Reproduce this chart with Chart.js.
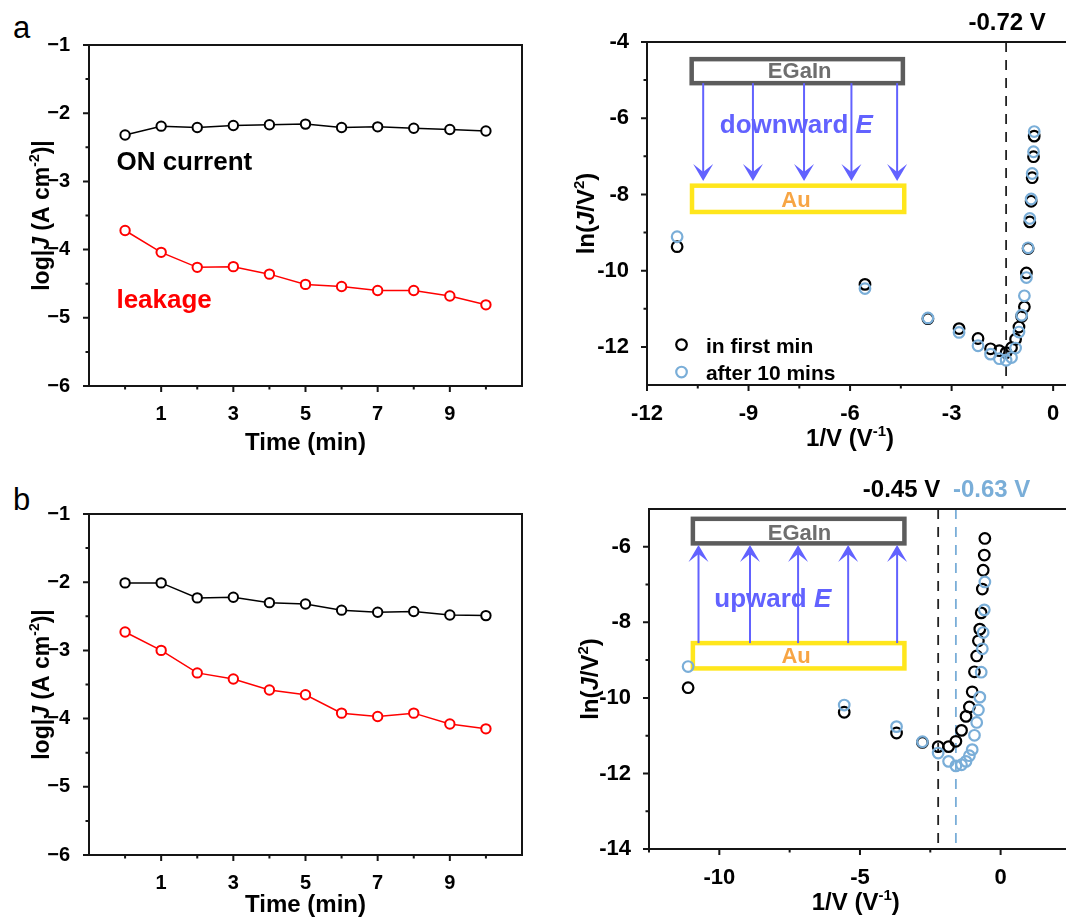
<!DOCTYPE html>
<html>
<head>
<meta charset="utf-8">
<title>log|J| vs time and ln(J/V2) vs 1/V</title>
<script src="https://cdn.jsdelivr.net/npm/chart.js@4.4.1/dist/chart.umd.min.js"></script>
<style>
  html, body { margin: 0; padding: 0; width: 1066px; height: 922px; overflow: hidden; background: #fff; }
  canvas, .tag { position: absolute; }
  .tag { font: 31px 'Liberation Sans', Arial, sans-serif; line-height: 1; }
</style>
</head>
<body>
<div class="tag" style="left:13px;top:12px">a</div>
<div class="tag" style="left:13px;top:484px">b</div>
<canvas id="chartA" width="533" height="460" style="left:0;top:0;width:533px;height:460px"></canvas>
<canvas id="chartB" width="533" height="452" style="left:0;top:470px;width:533px;height:452px"></canvas>
<canvas id="chartC" width="527" height="460" style="left:560px;top:0;width:527px;height:460px"></canvas>
<canvas id="chartD" width="525" height="462" style="left:560px;top:460px;width:525px;height:462px"></canvas>
<script>
const FONT = "'Liberation Sans', Arial, sans-serif";
Chart.defaults.font.family = FONT;
Chart.defaults.font.weight = 'bold';
Chart.defaults.color = '#000';

// ---- data ----
const timeMin = [0, 1, 2, 3, 4, 5, 6, 7, 8, 9, 10];
const onCurrentA = [-2.32, -2.19, -2.21, -2.18, -2.17, -2.16, -2.21, -2.20, -2.22, -2.24, -2.26];
const leakageA = [-3.72, -4.04, -4.26, -4.25, -4.36, -4.51, -4.54, -4.60, -4.60, -4.68, -4.81];
const onCurrentB = [-2.01, -2.01, -2.23, -2.22, -2.30, -2.32, -2.41, -2.44, -2.43, -2.48, -2.49];
const leakageB = [-2.73, -3.00, -3.33, -3.42, -3.58, -3.65, -3.92, -3.97, -3.92, -4.08, -4.15];

const invV = [-11.11, -5.56, -3.70, -2.78, -2.22, -1.85, -1.59, -1.39, -1.23, -1.11,
              -1.01, -0.93, -0.85, -0.79, -0.74, -0.69, -0.65, -0.62, -0.58, -0.56];
const firstMinA = [-9.37, -10.36, -11.26, -11.52, -11.78, -12.05, -12.10, -12.15, -12.02, -11.80,
                   -11.48, -11.20, -10.95, -10.06, -9.42, -8.72, -8.18, -7.56, -7.01, -6.47];
const after10A = [-9.11, -10.47, -11.24, -11.62, -11.97, -12.19, -12.31, -12.35, -12.28, -12.03,
                  -11.61, -11.17, -10.66, -10.18, -9.40, -8.63, -8.12, -7.45, -6.88, -6.35];
const firstMinB = [-9.73, -10.38, -10.93, -11.18, -11.29, -11.29, -11.15, -10.86, -10.49, -10.24,
                   -9.84, -9.31, -8.89, -8.49, -8.18, -7.75, -7.12, -6.62, -6.22, -5.78];
const after10B = [-9.17, -10.19, -10.76, -11.16, -11.46, -11.68, -11.80, -11.77, -11.68, -11.53,
                  -11.37, -10.99, -10.65, -10.32, -9.98, -9.32, -8.70, -8.27, -7.67, -6.93];

// onset markers (1/V of the labelled voltages)
const onsetA = [-1.39];          // -0.72 V
const onsetB = [-2.22, -1.59];   // -0.45 V, -0.63 V
const onsetLabelsA = ['-0.72 V'];
const onsetLabelsB = ['-0.45 V', '-0.63 V'];

// ticks
const timeTicks = [1, 3, 5, 7, 9];
const timeMinor = [0, 2, 4, 6, 8, 10];
const logJTicks = [-1, -2, -3, -4, -5, -6];
const logJMinor = [-1.5, -2.5, -3.5, -4.5, -5.5];
const invVTicksA = [-12, -9, -6, -3, 0];
const invVMinorA = [-10.5, -7.5, -4.5, -1.5];
const lnTicksA = [-4, -6, -8, -10, -12];
const lnMinorA = [-5, -7, -9, -11];
const invVTicksB = [-10, -5, 0];
const invVMinorB = [-12.5, -7.5, -2.5, 2.5];
const lnTicksB = [-6, -8, -10, -12, -14];
const lnMinorB = [-7, -9, -11, -13];

const BLACK = '#000000', RED = '#ff0000', BLUE = '#7aaed8';
const VIOLET = '#6262ff', YELLOW = '#ffe61c', ORANGE = '#f7a544';

// text with italic / superscript pieces
function richText(ctx, parts, x, y, size, opt) {
  opt = opt || {};
  const font = f => (f.indexOf('i') >= 0 ? 'italic ' : '') + 'bold ' +
    (f.indexOf('s') >= 0 ? Math.round(size * 0.62) : size) + 'px ' + FONT;
  ctx.save();
  ctx.translate(x, y);
  if (opt.rot) ctx.rotate(opt.rot);
  ctx.textBaseline = 'alphabetic';
  ctx.textAlign = 'left';
  ctx.fillStyle = opt.color || '#000';
  let w = 0;
  parts.forEach(p => { ctx.font = font(p[1] || ''); w += ctx.measureText(p[0]).width; });
  let cx = opt.align === 'left' ? 0 : opt.align === 'right' ? -w : -w / 2;
  parts.forEach(p => {
    const f = p[1] || '';
    ctx.font = font(f);
    ctx.fillText(p[0], cx, f.indexOf('s') >= 0 ? -size * 0.42 : 0);
    cx += ctx.measureText(p[0]).width;
  });
  ctx.restore();
}

// box frame, outward ticks (major + minor) and axis titles
const framePlugin = {
  id: 'frame',
  afterDraw(chart, args, o) {
    const { ctx, chartArea: a, scales } = chart;
    const sx = scales.x, sy = scales.y;
    ctx.save();
    ctx.strokeStyle = '#151515';
    ctx.lineWidth = 2;
    ctx.strokeRect(a.left, a.top, a.right - a.left, a.bottom - a.top);
    ctx.beginPath();
    const xt = (v, len) => { const p = sx.getPixelForValue(v); ctx.moveTo(p, a.bottom); ctx.lineTo(p, a.bottom + len); };
    const yt = (v, len) => { const p = sy.getPixelForValue(v); ctx.moveTo(a.left, p); ctx.lineTo(a.left - len, p); };
    sx.ticks.forEach(t => xt(t.value, 6));
    sy.ticks.forEach(t => yt(t.value, 6));
    (o.xMinor || []).forEach(v => xt(v, 3.5));
    (o.yMinor || []).forEach(v => yt(v, 3.5));
    ctx.stroke();
    if (o.xTitle) richText(ctx, o.xTitle.parts, sx.getPixelForValue(o.xTitle.at), a.bottom + o.xTitle.dy, o.xTitle.size);
    if (o.yTitle) richText(ctx, o.yTitle.parts, a.left - o.yTitle.dx, (a.top + a.bottom) / 2, o.yTitle.size, { rot: -Math.PI / 2 });
    ctx.restore();
  }
};

// fixed axis sizes, no label overhang padding
const fixH = h => s => { s.height = h; s.paddingLeft = s.paddingRight = s.paddingTop = s.paddingBottom = 0; };
const fixW = w => s => { s.width = w; s.paddingLeft = s.paddingRight = s.paddingTop = s.paddingBottom = 0; };

const leftTick = v => (v < 0 ? '\u2212' + (-v) : '' + v);
const logJTitle = { parts: [['log|'], ['J', 'i'], [' (A cm'], ['-2', 's'], [')|']], dx: 40, size: 23 };

function timeChart(id, on, leak, padTop, xh, extra) {
  const pts = arr => timeMin.map((t, i) => ({ x: t, y: arr[i] }));
  const series = (arr, col) => ({
    data: pts(arr), showLine: true, borderColor: col, borderWidth: 1.5,
    pointRadius: 4.7, pointBorderWidth: 2, pointBorderColor: col, pointBackgroundColor: '#fff'
  });
  return new Chart(document.getElementById(id), {
    type: 'scatter',
    data: { datasets: [series(on, BLACK), series(leak, RED)] },
    options: {
      responsive: false, animation: false, devicePixelRatio: 1,
      layout: { autoPadding: false, padding: { top: padTop, right: 11, left: 0, bottom: 0 } },
      plugins: {
        legend: { display: false }, tooltip: { enabled: false },
        frame: {
          xMinor: timeMinor, yMinor: logJMinor, yTitle: logJTitle,
          xTitle: { parts: [['Time (min)']], at: 5, dy: xh - 10, size: 24 }
        }
      },
      scales: {
        x: {
          type: 'linear', min: -1, max: 11,
          afterBuildTicks: s => { s.ticks = timeTicks.map(v => ({ value: v })); },
          afterFit: fixH(xh),
          grid: { display: false }, border: { display: false },
          ticks: { padding: 8, font: { size: 20 }, maxRotation: 0, autoSkip: false }
        },
        y: {
          type: 'linear', min: -6, max: -1,
          afterBuildTicks: s => { s.ticks = logJTicks.map(v => ({ value: v })); },
          afterFit: fixW(89),
          grid: { display: false }, border: { display: false },
          ticks: { padding: 11, font: { size: 20 }, callback: leftTick }
        }
      }
    },
    plugins: [framePlugin, extra || { id: 'none' }]
  });
}

timeChart('chartA', onCurrentA, leakageA, 45, 74, {
  id: 'notesA',
  afterDraw(chart) {
    const { ctx, scales: { x, y } } = chart;
    richText(ctx, [['ON current']], x.getPixelForValue(-0.24), y.getPixelForValue(-2.84), 26, { align: 'left' });
    richText(ctx, [['leakage']], x.getPixelForValue(-0.24), y.getPixelForValue(-4.85), 26, { align: 'left', color: RED });
  }
});
timeChart('chartB', onCurrentB, leakageB, 44, 67);

// arrow with stealth head, pixel coords
function arrow(ctx, x, y0, y1) {
  const dir = y1 > y0 ? 1 : -1, hl = 17, hw = 10, notch = 9;
  ctx.beginPath(); ctx.moveTo(x, y0); ctx.lineTo(x, y1 - dir * notch); ctx.stroke();
  ctx.beginPath();
  ctx.moveTo(x, y1); ctx.lineTo(x - hw, y1 - dir * hl); ctx.lineTo(x, y1 - dir * notch);
  ctx.lineTo(x + hw, y1 - dir * hl); ctx.closePath(); ctx.fill();
}

// EGaIn / Au sketch, positioned in data units
function drawInset(chart, s) {
  const { ctx, scales: { x, y } } = chart;
  const rect = (r, col) => {
    const x1 = x.getPixelForValue(r[0]), x2 = x.getPixelForValue(r[1]);
    const y1 = y.getPixelForValue(r[2]), y2 = y.getPixelForValue(r[3]);
    ctx.fillStyle = '#fff'; ctx.fillRect(x1, y1, x2 - x1, y2 - y1);
    ctx.strokeStyle = col; ctx.lineWidth = 4.5; ctx.strokeRect(x1, y1, x2 - x1, y2 - y1);
  };
  ctx.save();
  rect(s.egain, '#5c5c5c');
  rect(s.au, YELLOW);
  ctx.strokeStyle = VIOLET; ctx.fillStyle = VIOLET; ctx.lineWidth = 2;
  s.arrows.forEach(v => arrow(ctx, x.getPixelForValue(v), y.getPixelForValue(s.from), y.getPixelForValue(s.to)));
  richText(ctx, [['EGaIn']], x.getPixelForValue(s.egainText[0]), y.getPixelForValue(s.egainText[1]), 22, { color: '#6e6e6e' });
  richText(ctx, [['Au']], x.getPixelForValue(s.auText[0]), y.getPixelForValue(s.auText[1]), 22, { color: ORANGE });
  richText(ctx, [[s.word + ' '], ['E', 'i']], x.getPixelForValue(s.wordAt[0]), y.getPixelForValue(s.wordAt[1]), 26, { align: 'left', color: VIOLET });
  ctx.restore();
}

function dashed(chart, xs, cols) {
  const { ctx, chartArea: a, scales: { x } } = chart;
  ctx.save();
  ctx.lineWidth = 1.8;
  ctx.setLineDash([10, 8]);
  xs.forEach((v, i) => {
    const p = x.getPixelForValue(v);
    ctx.strokeStyle = cols[i];
    ctx.beginPath(); ctx.moveTo(p, a.top); ctx.lineTo(p, a.bottom); ctx.stroke();
  });
  ctx.restore();
}

const lnTitle = [['ln('], ['J', 'i'], ['/V'], ['2', 's'], [')']];
const invTitle = [['1/V (V'], ['-1', 's'], [')']];

function ivChart(id, black, blue, cfg, extra) {
  const pts = arr => invV.map((v, i) => ({ x: v, y: arr[i] }));
  const ring = (arr, col, order) => ({
    data: pts(arr), order: order, showLine: false,
    pointRadius: 5.3, pointBorderWidth: 2.2, pointBorderColor: col, pointBackgroundColor: 'rgba(0,0,0,0)'
  });
  return new Chart(document.getElementById(id), {
    type: 'scatter',
    data: { datasets: [ring(blue, BLUE, 0), ring(black, BLACK, 1)] },
    options: {
      responsive: false, animation: false, devicePixelRatio: 1,
      layout: { autoPadding: false, padding: { top: cfg.top, right: 0, left: 0, bottom: 0 } },
      plugins: {
        legend: { display: false }, tooltip: { enabled: false },
        frame: {
          xMinor: cfg.xMinor, yMinor: cfg.yMinor,
          yTitle: { parts: lnTitle, dx: cfg.yTitleDx, size: 24 },
          xTitle: { parts: invTitle, at: cfg.xTitleAt, dy: 61, size: 24 }
        }
      },
      scales: {
        x: {
          type: 'linear', min: cfg.xMin, max: cfg.xMax,
          afterBuildTicks: s => { s.ticks = cfg.xTicks.map(v => ({ value: v })); },
          afterFit: fixH(cfg.xh),
          grid: { display: false }, border: { display: false },
          ticks: { padding: 8, font: { size: 22 }, maxRotation: 0, autoSkip: false }
        },
        y: {
          type: 'linear', min: cfg.yMin, max: cfg.yMax,
          afterBuildTicks: s => { s.ticks = cfg.yTicks.map(v => ({ value: v })); },
          afterFit: fixW(cfg.yw),
          grid: { display: false }, border: { display: false },
          ticks: { padding: 10, font: { size: 22 } }
        }
      }
    },
    plugins: [framePlugin, extra]
  });
}

ivChart('chartC', firstMinA, after10A, {
  top: 42, xh: 75, yw: 87, xMin: -12, xMax: 1, yMin: -13, yMax: -4,
  xTicks: invVTicksA, xMinor: invVMinorA, yTicks: lnTicksA, yMinor: lnMinorA,
  xTitleAt: -6, yTitleDx: 53
}, {
  id: 'annC',
  beforeDatasetsDraw(chart) {
    dashed(chart, onsetA, ['#222']);
    drawInset(chart, {
      egain: [-10.68, -4.44, -4.45, -5.08], au: [-10.67, -4.40, -7.77, -8.46],
      arrows: [-10.34, -8.87, -7.36, -5.96, -4.61], from: -5.08, to: -7.65,
      egainText: [-7.49, -4.95], auText: [-7.60, -8.33], word: 'downward', wordAt: [-9.85, -6.40]
    });
  },
  afterDraw(chart) {
    const { ctx, chartArea: a, scales: { x, y } } = chart;
    richText(ctx, [[onsetLabelsA[0]]], x.getPixelForValue(onsetA[0]) + 1, a.top - 12, 24);
    // legend
    ctx.save();
    ctx.lineWidth = 2.2;
    [[BLACK, -11.94, -12.15, 'in first min'], [BLUE, -12.66, -12.86, 'after 10 mins']].forEach(r => {
      ctx.strokeStyle = r[0];
      ctx.beginPath(); ctx.arc(x.getPixelForValue(-10.98), y.getPixelForValue(r[1]), 5.3, 0, Math.PI * 2); ctx.stroke();
      richText(ctx, [[r[3]]], x.getPixelForValue(-10.26), y.getPixelForValue(r[2]), 21, { align: 'left' });
    });
    ctx.restore();
  }
});

ivChart('chartD', firstMinB, after10B, {
  top: 49, xh: 73, yw: 89, xMin: -12.5, xMax: 3, yMin: -14, yMax: -5,
  xTicks: invVTicksB, xMinor: invVMinorB, yTicks: lnTicksB, yMinor: lnMinorB,
  xTitleAt: -5.15, yTitleDx: 51
}, {
  id: 'annD',
  beforeDatasetsDraw(chart) {
    dashed(chart, onsetB, ['#222', BLUE]);
    drawInset(chart, {
      egain: [-10.94, -3.42, -5.26, -5.91], au: [-10.94, -3.42, -8.55, -9.22],
      arrows: [-10.74, -8.91, -7.20, -5.42, -3.68], from: -8.55, to: -5.95,
      egainText: [-7.15, -5.82], auText: [-7.27, -9.08], word: 'upward', wordAt: [-10.18, -7.59]
    });
  },
  afterDraw(chart) {
    const { ctx, chartArea: a, scales: { x } } = chart;
    richText(ctx, [[onsetLabelsB[0]]], x.getPixelForValue(onsetB[0]) + 2, a.top - 12, 24, { align: 'right' });
    richText(ctx, [[onsetLabelsB[1]]], x.getPixelForValue(onsetB[1]) - 3, a.top - 12, 24, { align: 'left', color: BLUE });
  }
});
</script>
</body>
</html>
